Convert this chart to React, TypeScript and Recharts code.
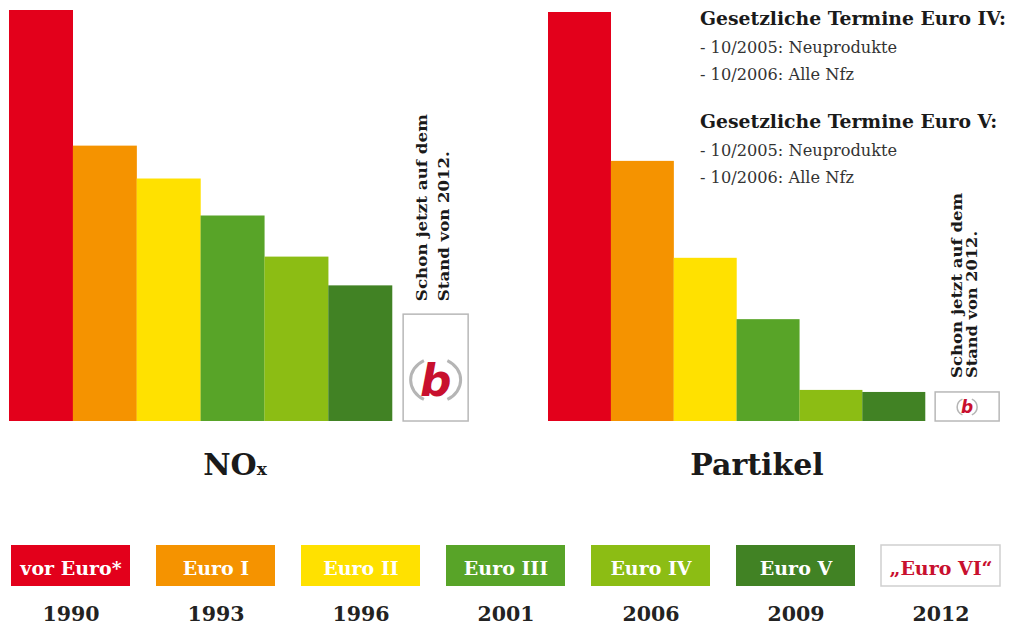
import { BarChart, Bar, XAxis, YAxis, Cell } from 'recharts';

// Abgasstufen, Jahre, Farben
const stages = ['vor Euro*', 'Euro I', 'Euro II', 'Euro III', 'Euro IV', 'Euro V', '„Euro VI“'];
const years = ['1990', '1993', '1996', '2001', '2006', '2009', '2012'];
const stageColors = ['#e3001b', '#f59300', '#ffe100', '#58a428', '#8cbd14', '#418224', '#ffffff'];

// Grenzwerte relativ zu 1990 (= 100), aus dem Bild geschätzt
const noxValues = [100, 67, 59, 50, 40, 33, 26];
const partikelValues = [100, 63.6, 39.9, 24.9, 7.6, 7.1, 7.1];

const noteIV = ['Gesetzliche Termine Euro IV:', '- 10/2005: Neuprodukte', '- 10/2006: Alle Nfz'];
const noteV = ['Gesetzliche Termine Euro V:', '- 10/2005: Neuprodukte', '- 10/2006: Alle Nfz'];
const sideNote = ['Schon jetzt auf dem', 'Stand von 2012.'];

const SERIF = '"DejaVu Serif", serif';
const LOGO_RED = '#c8102e';

const toData = (values: number[]) =>
  stages.map((stage, i) => ({ stage, year: years[i], value: values[i] }));

type LogoOpts = {
  shift: number;
  logoRx: number;
  logoRy: number;
  logoFromBottom: number;
  logoFont: number;
  ring: number;
  textGap: number;
  col1: number;
  col2: number;
  len1: number;
  len2: number;
};

function makeShape(o: LogoOpts) {
  return (props: any) => {
    const { x, y, width, height, index } = props;
    if (index !== stages.length - 1) {
      return <rect x={x} y={y} width={width} height={height} fill={stageColors[index]} />;
    }
    const bx = x + o.shift;
    const bw = width + 1;
    const cx = bx + bw / 2;
    const cy = y + height - o.logoFromBottom;
    const arc = (a1: number, a2: number) => {
      const r1 = (a1 * Math.PI) / 180;
      const r2 = (a2 * Math.PI) / 180;
      return `M${cx + o.logoRx * Math.cos(r1)},${cy + o.logoRy * Math.sin(r1)} A${o.logoRx},${o.logoRy} 0 0 1 ${cx + o.logoRx * Math.cos(r2)},${cy + o.logoRy * Math.sin(r2)}`;
    };
    const tb = y - o.textGap;
    return (
      <g>
        <rect x={bx} y={y} width={bw} height={height} fill="#fff" stroke="#b8b8b8" strokeWidth={1.5} />
        <path d={arc(-62, 62)} fill="none" stroke="#b5b5b5" strokeWidth={o.ring} />
        <path d={arc(118, 242)} fill="none" stroke="#b5b5b5" strokeWidth={o.ring} />
        <text
          x={cx}
          y={cy + 0.36 * o.logoFont}
          textAnchor="middle"
          fontFamily='"DejaVu Sans", sans-serif'
          fontWeight="bold"
          fontStyle="italic"
          fontSize={o.logoFont}
          fill={LOGO_RED}
        >
          b
        </text>
        {[o.col1, o.col2].map((c, i) => (
          <text
            key={i}
            x={bx + c}
            y={tb}
            transform={`rotate(-90 ${bx + c} ${tb})`}
            dominantBaseline="central"
            fontFamily={SERIF}
            fontWeight="bold"
            fontSize={14}
            fill="#1a1a1a"
            textLength={i === 0 ? o.len1 : o.len2}
            lengthAdjust="spacingAndGlyphs"
          >
            {sideNote[i]}
          </text>
        ))}
      </g>
    );
  };
}

function StageBars({ values, shape }: { values: number[]; shape: (p: any) => any }) {
  return (
    <>
      <XAxis dataKey="stage" hide />
      <YAxis domain={[0, 100]} hide />
      <Bar dataKey="value" isAnimationActive={false} shape={shape}>
        {values.map((_, i) => (
          <Cell key={i} fill={stageColors[i]} />
        ))}
      </Bar>
    </>
  );
}

export default function App() {
  const noxShape = makeShape({
    shift: 11, logoRx: 25, logoRy: 22, logoFromBottom: 41, logoFont: 44, ring: 3,
    textGap: 13, col1: 19, col2: 41, len1: 187, len2: 150,
  });
  const partShape = makeShape({
    shift: 10, logoRx: 10, logoRy: 9, logoFromBottom: 14, logoFont: 17, ring: 1.5,
    textGap: 14, col1: 22, col2: 37, len1: 185, len2: 147,
  });

  return (
    <div style={{ position: 'absolute', left: 0, top: 0, width: 1014, height: 625, background: '#fff', overflow: 'hidden' }}>
      <div style={{ position: 'absolute', left: 0, top: 0 }}>
        <BarChart width={480} height={440} data={toData(noxValues)} barCategoryGap={0} barGap={0}
          margin={{ top: 10, right: 24, left: 9, bottom: 19 }}>
          {StageBars({ values: noxValues, shape: noxShape })}
        </BarChart>
      </div>
      <div style={{ position: 'absolute', left: 520, top: 0 }}>
        <BarChart width={494} height={440} data={toData(partikelValues)} barCategoryGap={0} barGap={0}
          margin={{ top: 12, right: 26, left: 28, bottom: 19 }}>
          {StageBars({ values: partikelValues, shape: partShape })}
        </BarChart>
      </div>

      <svg width={1014} height={625} style={{ position: 'absolute', left: 0, top: 0, pointerEvents: 'none' }}>
        <g fontFamily={SERIF} fill="#1a1a1a">
          {[noteIV, noteV].map((note, g) =>
            note.map((line, i) => (
              <text
                key={`${g}-${i}`}
                x={700}
                y={(g === 0 ? 25 : 128) + (i === 0 ? 0 : i === 1 ? 28 : 55)}
                fontSize={i === 0 ? 18.8 : 16.2}
                fontWeight={i === 0 ? 'bold' : 'normal'}
                fill={i === 0 ? '#1a1a1a' : '#333'}
              >
                {line}
              </text>
            ))
          )}
          <text x={235} y={475} textAnchor="middle" fontSize={30} fontWeight="bold">
            NO<tspan fontSize={17}>x</tspan>
          </text>
          <text x={757} y={475} textAnchor="middle" fontSize={30} fontWeight="bold">
            Partikel
          </text>

          {stages.map((s, i) => {
            const left = 11 + i * 145;
            const last = i === stages.length - 1;
            return (
              <g key={s}>
                <rect
                  x={left}
                  y={545}
                  width={119}
                  height={41}
                  fill={stageColors[i]}
                  stroke={last ? '#cfcfcf' : 'none'}
                  strokeWidth={1.5}
                />
                <text x={left + 60} y={575} textAnchor="middle" fontSize={19} fontWeight="bold"
                  fill={last ? LOGO_RED : '#fff'}>
                  {s}
                </text>
                <text x={left + 60} y={621} textAnchor="middle" fontSize={20.5} fontWeight="bold" fill="#222">
                  {years[i]}
                </text>
              </g>
            );
          })}
        </g>
      </svg>
    </div>
  );
}
